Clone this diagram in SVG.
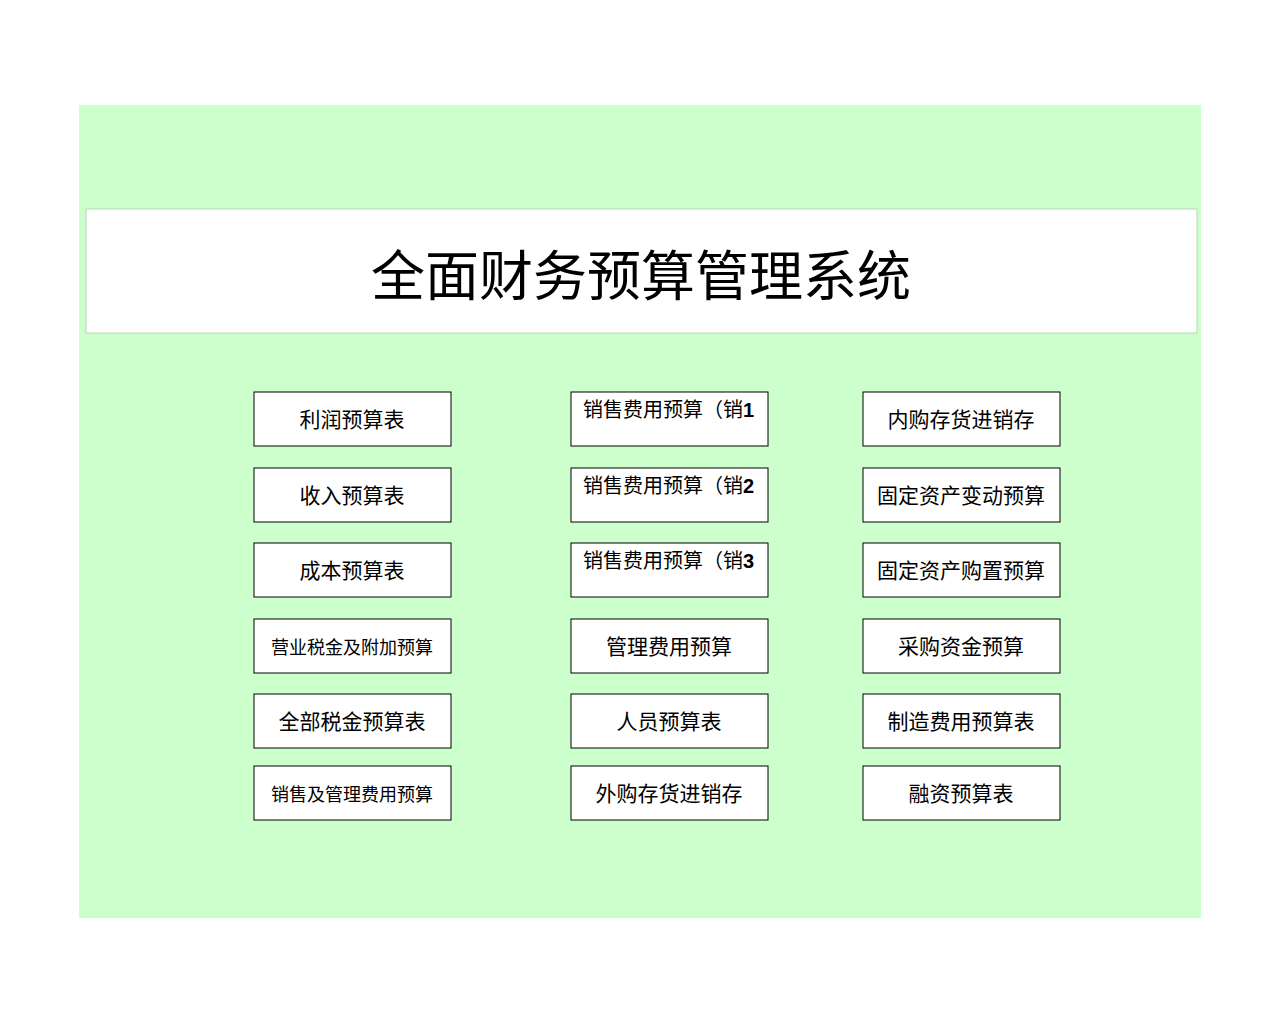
<svg xmlns="http://www.w3.org/2000/svg" width="1280" height="1024" viewBox="0 0 1280 1024">
<style>
.b{fill:#fff;stroke:#000;stroke-width:1}
.t{font-family:"Liberation Sans","Noto Sans CJK SC",sans-serif;font-size:21px;fill:#000;text-anchor:middle}
.s{font-size:18px}
.l{text-anchor:start;font-size:20px}
</style>
<rect width="1280" height="1024" fill="#fff"/>
<rect x="79" y="105" width="1122" height="813" fill="#CCFFCC"/>
<g id="title"><rect x="86" y="209" width="1111" height="124" fill="#fff" stroke="#b8d8b8"/>
<text x="641" y="296" class="t" style="font-size:54px">全面财务预算管理系统</text></g>
<g id="n1"><rect class="b" x="254" y="392" width="197" height="54"/><text class="t" x="352" y="427">利润预算表</text></g>
<g id="n2"><rect class="b" x="254" y="468" width="197" height="54"/><text class="t" x="352" y="503">收入预算表</text></g>
<g id="n3"><rect class="b" x="254" y="543" width="197" height="54"/><text class="t" x="352" y="578">成本预算表</text></g>
<g id="n4"><rect class="b" x="254" y="619" width="197" height="54"/><text class="t s" x="352" y="654">营业税金及附加预算</text></g>
<g id="n5"><rect class="b" x="254" y="694" width="197" height="54"/><text class="t" x="352" y="729">全部税金预算表</text></g>
<g id="n6"><rect class="b" x="254" y="766" width="197" height="54"/><text class="t s" x="352" y="801">销售及管理费用预算</text></g>
<g id="m1"><rect class="b" x="571" y="392" width="197" height="54"/><text class="t l" x="583" y="417">销售费用预算（销<tspan font-weight="bold">1</tspan></text></g>
<g id="m2"><rect class="b" x="571" y="468" width="197" height="54"/><text class="t l" x="583" y="493">销售费用预算（销<tspan font-weight="bold">2</tspan></text></g>
<g id="m3"><rect class="b" x="571" y="543" width="197" height="54"/><text class="t l" x="583" y="568">销售费用预算（销<tspan font-weight="bold">3</tspan></text></g>
<g id="m4"><rect class="b" x="571" y="619" width="197" height="54"/><text class="t" x="669" y="654">管理费用预算</text></g>
<g id="m5"><rect class="b" x="571" y="694" width="197" height="54"/><text class="t" x="669" y="729">人员预算表</text></g>
<g id="m6"><rect class="b" x="571" y="766" width="197" height="54"/><text class="t" x="669" y="801">外购存货进销存</text></g>
<g id="r1"><rect class="b" x="863" y="392" width="197" height="54"/><text class="t" x="961" y="427">内购存货进销存</text></g>
<g id="r2"><rect class="b" x="863" y="468" width="197" height="54"/><text class="t" x="961" y="503">固定资产变动预算</text></g>
<g id="r3"><rect class="b" x="863" y="543" width="197" height="54"/><text class="t" x="961" y="578">固定资产购置预算</text></g>
<g id="r4"><rect class="b" x="863" y="619" width="197" height="54"/><text class="t" x="961" y="654">采购资金预算</text></g>
<g id="r5"><rect class="b" x="863" y="694" width="197" height="54"/><text class="t" x="961" y="729">制造费用预算表</text></g>
<g id="r6"><rect class="b" x="863" y="766" width="197" height="54"/><text class="t" x="961" y="801">融资预算表</text></g>
<g id="connectors"/>
</svg>
